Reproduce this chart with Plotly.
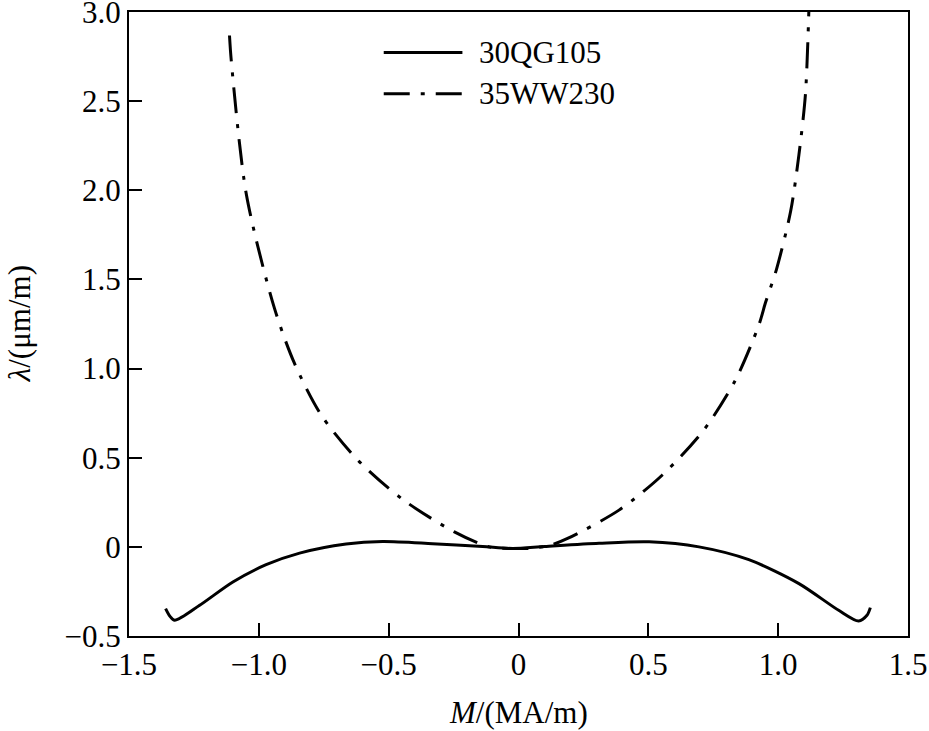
import plotly.graph_objects as go

# 30QG105 (solid)
qg_x = [-1.359, -1.342, -1.324, -1.228, -1.100, -0.972, -0.843, -0.664, -0.523, -0.331,
        -0.138, -0.023, 0.10, 0.310, 0.503, 0.695, 0.887, 1.080, 1.233, 1.310, 1.342, 1.355]
qg_y = [-0.346, -0.390, -0.412, -0.328, -0.197, -0.100, -0.035, 0.016, 0.030, 0.018,
        0.002, -0.009, 0.002, 0.020, 0.028, 0.000, -0.072, -0.206, -0.356, -0.416, -0.384, -0.341]

# 35WW230 (dash-dot)
ww_x = [-1.113, -1.106, -1.048, -0.940, -0.863, -0.760, -0.619, -0.446, -0.247, -0.113,
        -0.023, 0.050, 0.125, 0.189, 0.387, 0.554, 0.714, 0.836, 0.926, 0.951, 0.993,
        1.048, 1.080, 1.105, 1.118]
ww_y = [2.868, 2.725, 1.976, 1.339, 1.030, 0.740, 0.487, 0.266, 0.084, 0.000,
        -0.009, -0.008, 0.010, 0.047, 0.206, 0.403, 0.656, 0.937, 1.246, 1.369, 1.554,
        1.882, 2.200, 2.538, 3.000]

series_names = ["30QG105", "35WW230"]

x_ticks = [-1.5, -1.0, -0.5, 0, 0.5, 1.0, 1.5]
x_ticktext = ["\u22121.5", "\u22121.0", "\u22120.5", "0", "0.5", "1.0", "1.5"]
y_ticks = [-0.5, 0, 0.5, 1.0, 1.5, 2.0, 2.5, 3.0]
y_ticktext = ["\u22120.5", "0", "0.5", "1.0", "1.5", "2.0", "2.5", "3.0"]

FONT = "Liberation Serif"
DASHDOT = "26px,11px,4px,11px"

fig = go.Figure()
fig.add_trace(go.Scatter(x=qg_x, y=qg_y, mode="lines", name=series_names[0],
                         line=dict(color="black", width=3, shape="spline", smoothing=0.8),
                         showlegend=False))
fig.add_trace(go.Scatter(x=ww_x, y=ww_y, mode="lines", name=series_names[1],
                         line=dict(color="black", width=3, shape="spline", smoothing=0.8, dash=DASHDOT),
                         showlegend=False))

# manual legend
leg_rows = [(0.935, "solid"), (0.869, DASHDOT)]
for (yy, dsh), name in zip(leg_rows, series_names):
    fig.add_shape(type="line", xref="paper", yref="paper", x0=0.327, x1=0.428, y0=yy, y1=yy,
                  line=dict(color="black", width=3, dash=dsh))
    fig.add_annotation(xref="paper", yref="paper", x=0.447, y=yy, text=name, showarrow=False,
                       xanchor="left", yanchor="middle", font=dict(family=FONT, size=31, color="black"))

axis_common = dict(showgrid=False, zeroline=False, showline=True, linecolor="black", linewidth=2,
                   mirror=True, ticks="inside", ticklen=13, tickwidth=2, tickcolor="black",
                   automargin=False, ticklabeloverflow="allow",
                   tickfont=dict(family=FONT, size=31, color="black"))

fig.update_xaxes(range=[-1.5, 1.5], tickvals=x_ticks, ticktext=x_ticktext, **axis_common)
fig.update_yaxes(range=[-0.5, 3.0], tickvals=y_ticks, ticktext=y_ticktext, **axis_common)

fig.add_annotation(xref="paper", yref="paper", x=0.5, y=-0.122, yanchor="middle", showarrow=False,
                   text="<i>M</i>/(MA/m)", font=dict(family=FONT, size=31, color="black"))
fig.add_annotation(xref="paper", yref="paper", x=-0.166, y=0.5, xanchor="left", showarrow=False,
                   textangle=-90, text="<i>λ</i>/(μm/m)", font=dict(family=FONT, size=31, color="black"))

fig.update_layout(width=929, height=731, margin=dict(l=129, r=21, t=12, b=95),
                  paper_bgcolor="white", plot_bgcolor="white", showlegend=False)

fig.write_html("out.html")
